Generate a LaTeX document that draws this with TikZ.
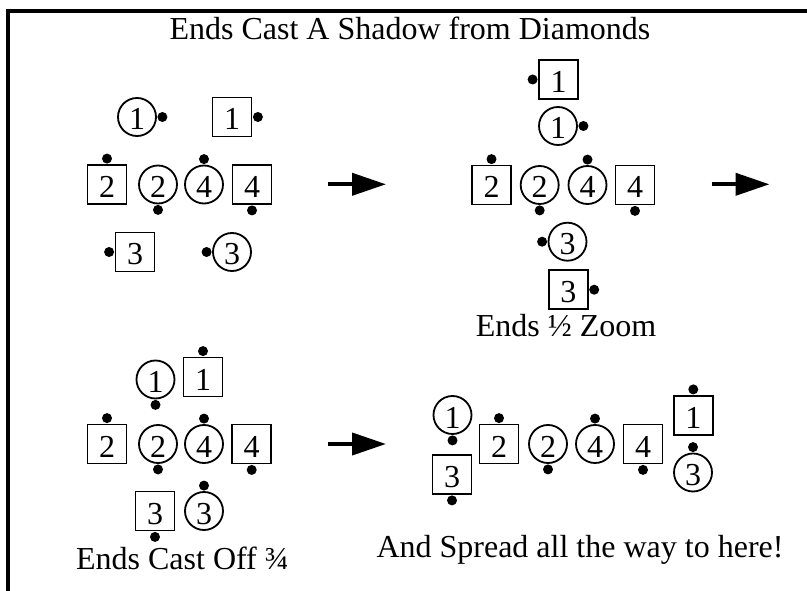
\documentclass[tikz,border=0pt]{standalone}
\usepackage{fontspec}
\setmainfont{Liberation Serif}
\usetikzlibrary{arrows.meta}
\tikzset{
  bigfont/.style={font=\fontsize{32}{38}\selectfont},
  circ/.style={draw, circle, line width=1.8pt, minimum size=38pt, inner sep=0pt, bigfont, text height=26pt, text depth=0pt},
  sq/.style={draw, rectangle, line width=1.8pt, minimum size=39pt, inner sep=0pt, bigfont, text height=26pt, text depth=0pt},
  dot/.style={fill, circle, minimum size=10pt, inner sep=0pt},
  bigarrow/.style={line width=4pt, -{Triangle[length=34pt,width=22pt]}},
  caption/.style={bigfont, anchor=base, inner sep=0pt},
  frame/.style={line width=3.5pt}
}
\begin{document}
\begin{tikzpicture}[x=1pt,y=-1pt]
\useasboundingbox (0,0) rectangle (807,591);
% frame
\coordinate (fbl) at (8,592);
\coordinate (ftl) at (8,11);
\coordinate (ftr) at (808,11);
\draw[frame] (fbl) -- (ftl) -- (ftr);
% title
\node[caption] (title) at (410,39.5) {Ends Cast A Shadow from Diamonds};

% ---- group A
\node[circ] (ac1) at (137,117) {1};   \node[dot] (adc1) at ([xshift=5.5pt]ac1.east) {};
\node[sq]   (as1) at (232,117) {1};   \node[dot] (ads1) at ([xshift=5.5pt]as1.east) {};
\node[sq]   (as2) at (107,184.5) {2}; \node[dot] (ads2) at ([yshift=5.5pt]as2.north) {};
\node[circ] (ac2) at (158,184.5) {2}; \node[dot] (adc2) at ([yshift=-5.5pt]ac2.south) {};
\node[circ] (ac4) at (204,184.5) {4}; \node[dot] (adc4) at ([yshift=5.5pt]ac4.north) {};
\node[sq]   (as4) at (252,184.5) {4}; \node[dot] (ads4) at ([yshift=-5.5pt]as4.south) {};
\node[sq]   (as3) at (135,252) {3};   \node[dot] (ads3) at ([xshift=-5.5pt]as3.west) {};
\node[circ] (ac3) at (232,252) {3};   \node[dot] (adc3) at ([xshift=-5.5pt]ac3.west) {};

% ---- group B
\node[sq]   (bs1) at (558.5,79.5) {1};  \node[dot] (bds1) at ([xshift=-5.5pt]bs1.west) {};
\node[circ] (bc1) at (558,126) {1};     \node[dot] (bdc1) at ([xshift=5.5pt]bc1.east) {};
\node[sq]   (bs2) at (491.5,185) {2};   \node[dot] (bds2) at ([yshift=5.5pt]bs2.north) {};
\node[circ] (bc2) at (539.7,185) {2};   \node[dot] (bdc2) at ([yshift=-5.5pt]bc2.south) {};
\node[circ] (bc4) at (587.5,185) {4};   \node[dot] (bdc4) at ([yshift=5.5pt]bc4.north) {};
\node[sq]   (bs4) at (635,185) {4};     \node[dot] (bds4) at ([yshift=-5.5pt]bs4.south) {};
\node[circ] (bc3) at (567.5,241.7) {3}; \node[dot] (bdc3) at ([xshift=-5.5pt]bc3.west) {};
\node[sq]   (bs3) at (568.3,289.7) {3}; \node[dot] (bds3) at ([xshift=5.5pt]bs3.east) {};
\node[caption] (bcap) at (566,337) {Ends ½ Zoom};

% ---- group C
\node[circ] (cc1) at (155.5,379.5) {1}; \node[dot] (cdc1) at ([yshift=-5.5pt]cc1.south) {};
\node[sq]   (cs1) at (203,377) {1};     \node[dot] (cds1) at ([yshift=5.5pt]cs1.north) {};
\node[sq]   (cs2) at (107,444) {2};     \node[dot] (cds2) at ([yshift=5.5pt]cs2.north) {};
\node[circ] (cc2) at (158,444) {2};     \node[dot] (cdc2) at ([yshift=-5.5pt]cc2.south) {};
\node[circ] (cc4) at (204,444) {4};     \node[dot] (cdc4) at ([yshift=5.5pt]cc4.north) {};
\node[sq]   (cs4) at (251.7,444) {4};   \node[dot] (cds4) at ([yshift=-5.5pt]cs4.south) {};
\node[sq]   (cs3) at (155,511) {3};     \node[dot] (cds3) at ([yshift=-5.5pt]cs3.south) {};
\node[circ] (cc3) at (204,511) {3};     \node[dot] (cdc3) at ([yshift=5.5pt]cc3.north) {};
\node[caption] (ccap) at (182.5,569) {Ends Cast Off ¾};

% ---- group D
\node[circ] (dc1) at (452.5,415) {1};   \node[dot] (ddc1) at ([yshift=-5.5pt]dc1.south) {};
\node[sq]   (ds3) at (452,474.5) {3};   \node[dot] (dds3) at ([yshift=-5.5pt]ds3.south) {};
\node[sq]   (ds2) at (499,444) {2};     \node[dot] (dds2) at ([yshift=5.5pt]ds2.north) {};
\node[circ] (dc2) at (548,444) {2};     \node[dot] (ddc2) at ([yshift=-5.5pt]dc2.south) {};
\node[circ] (dc4) at (595,444) {4};     \node[dot] (ddc4) at ([yshift=5.5pt]dc4.north) {};
\node[sq]   (ds4) at (643,444) {4};     \node[dot] (dds4) at ([yshift=-5.5pt]ds4.south) {};
\node[sq]   (ds1) at (693.3,415.3) {1}; \node[dot] (dds1) at ([yshift=5.5pt]ds1.north) {};
\node[circ] (dc3) at (693,472.5) {3};   \node[dot] (ddc3) at ([yshift=5.5pt]dc3.north) {};
\node[caption] (dcap) at (580,557) {And Spread all the way to here!};

% ---- arrows
\coordinate (a1s) at (328,184.3); \coordinate (a1e) at (386,184.3);
\coordinate (a2s) at (711.5,184.3); \coordinate (a2e) at (769.5,184.3);
\coordinate (a3s) at (328,444); \coordinate (a3e) at (386,444);
\draw[bigarrow] (a1s) -- (a1e);
\draw[bigarrow] (a2s) -- (a2e);
\draw[bigarrow] (a3s) -- (a3e);
\end{tikzpicture}
\end{document}
